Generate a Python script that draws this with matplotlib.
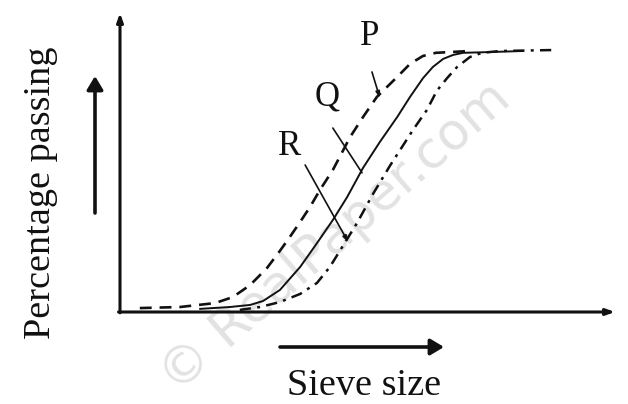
import matplotlib
matplotlib.use("Agg")
import matplotlib.pyplot as plt
from matplotlib.patches import FancyArrowPatch

# ---- data ----
p_x = [4.0, 12.1, 19.2, 22.8, 26.3, 29.7, 32.3, 34.3, 36.4, 38.4, 40.4, 43.0,
       46.5, 49.1, 51.9, 56.0, 58.6, 61.2, 63.8, 66.7, 70.7]
p_y = [1.5, 1.9, 3.4, 5.7, 10.3, 16.8, 23.3, 28.6, 34.4, 40.1, 46.6, 54.2,
       66.8, 74.4, 82.1, 89.7, 94.7, 97.7, 98.9, 99.2, 99.6]

q_x = [16.2, 22.2, 26.3, 28.9, 32.3, 36.4, 39.8, 43.0, 45.9, 49.1, 52.5, 56.0,
       58.6, 61.2, 63.2, 65.3, 67.3, 69.3, 74.8, 81.4]
q_y = [1.2, 1.9, 2.7, 4.2, 8.4, 17.2, 26.3, 35.1, 43.9, 55.0, 64.9, 74.4,
       82.1, 89.2, 93.5, 96.6, 98.1, 98.9, 99.2, 99.6]

r_x = [24.2, 28.3, 32.3, 36.4, 39.8, 42.4, 44.4, 47.9, 51.1, 54.5, 59.2, 62.0,
       64.0, 66.1, 68.1, 70.7, 73.1, 76.8, 88.3]
r_y = [0.8, 1.9, 3.8, 6.9, 11.1, 17.2, 23.3, 34.0, 45.0, 55.7, 69.5, 77.1,
       84.4, 89.3, 93.5, 97.3, 98.9, 99.6, 100.0]

curve_labels = ["P", "Q", "R"]
x_label = "Sieve size"
y_label = "Percentage passing"
watermark = "\u00a9 RealPaper.com"

# ---- figure ----
W, H = 628, 404
fig = plt.figure(figsize=(W / 100, H / 100), dpi=100)
ax = fig.add_axes([120 / W, (H - 312) / H, 495 / W, (312 - 13) / H])
ax.set_facecolor("none")
ax.set_xlim(0, 100)
ax.set_ylim(0, 114.1)
for s in ax.spines.values():
    s.set_visible(False)
ax.set_xticks([])
ax.set_yticks([])

serif = ["Liberation Serif", "DejaVu Serif"]
ink = "#111111"

# watermark
fig.text(336 / W, (H - 238) / H, watermark, rotation=41, fontsize=37,
         color="#e2e2e2", ha="center", va="center", family="DejaVu Sans",
         zorder=-1)

# axes with arrows
head = "-|>,head_length=0.5,head_width=0.18"
ax.annotate("", xy=(0, 114.1), xytext=(0, -0.3), annotation_clip=False,
            arrowprops=dict(arrowstyle=head, lw=2.2, color=ink,
                            shrinkA=0, shrinkB=0))
ax.annotate("", xy=(100, 0), xytext=(-0.3, 0), annotation_clip=False,
            arrowprops=dict(arrowstyle=head, lw=2.2, color=ink,
                            shrinkA=0, shrinkB=0))

# curves
ax.plot(p_x, p_y, color=ink, lw=1.9, dashes=(4.5, 3.0), clip_on=False,
        solid_joinstyle="round")
ax.plot(q_x, q_y, color=ink, lw=1.4, clip_on=False, solid_joinstyle="round")
ax.plot(r_x, r_y, color=ink, lw=1.8, dashes=(4.5, 2.5, 1.2, 2.5),
        clip_on=False)

# labels and leaders
small = "-|>,head_length=0.35,head_width=0.12"
ax.text(50.5, 105.0, curve_labels[0], fontsize=25, family=serif, color=ink,
        ha="center", va="center")
ax.annotate("", xy=(52.5, 81.7), xytext=(50.9, 91.6),
            arrowprops=dict(arrowstyle=small, lw=1.2, color=ink,
                            shrinkA=0, shrinkB=0))
ax.text(41.8, 82.1, curve_labels[1], fontsize=25, family=serif, color=ink,
        ha="center", va="center")
ax.annotate("", xy=(48.9, 53.1), xytext=(43.0, 70.2),
            arrowprops=dict(arrowstyle="-", lw=1.2, color=ink,
                            shrinkA=0, shrinkB=0))
ax.text(34.3, 63.0, curve_labels[2], fontsize=25, family=serif, color=ink,
        ha="center", va="center")
ax.annotate("", xy=(46.1, 26.7), xytext=(37.4, 56.1),
            arrowprops=dict(arrowstyle=small, lw=1.2, color=ink,
                            shrinkA=0, shrinkB=0))

# axis titles with arrows
fig.text(41 / W, (H - 193) / H, y_label, rotation=90, fontsize=27.5,
         family=serif, color=ink, ha="center", va="center")
fig.patches.append(FancyArrowPatch(
    (95 / W, (H - 213) / H), (95 / W, (H - 76) / H), transform=fig.transFigure,
    arrowstyle="-|>,head_length=5,head_width=3", lw=2.6, color=ink,
    shrinkA=0, shrinkB=0, mutation_scale=1.6))

fig.text(364 / W, (H - 395) / H, x_label, fontsize=27.5, family=serif,
         color=ink, ha="center", va="baseline")
fig.patches.append(FancyArrowPatch(
    (280 / W, (H - 347) / H), (444 / W, (H - 347) / H), transform=fig.transFigure,
    arrowstyle="-|>,head_length=5,head_width=3", lw=2.6, color=ink,
    shrinkA=0, shrinkB=0, mutation_scale=1.6))

fig.savefig("out.png", dpi=100)
